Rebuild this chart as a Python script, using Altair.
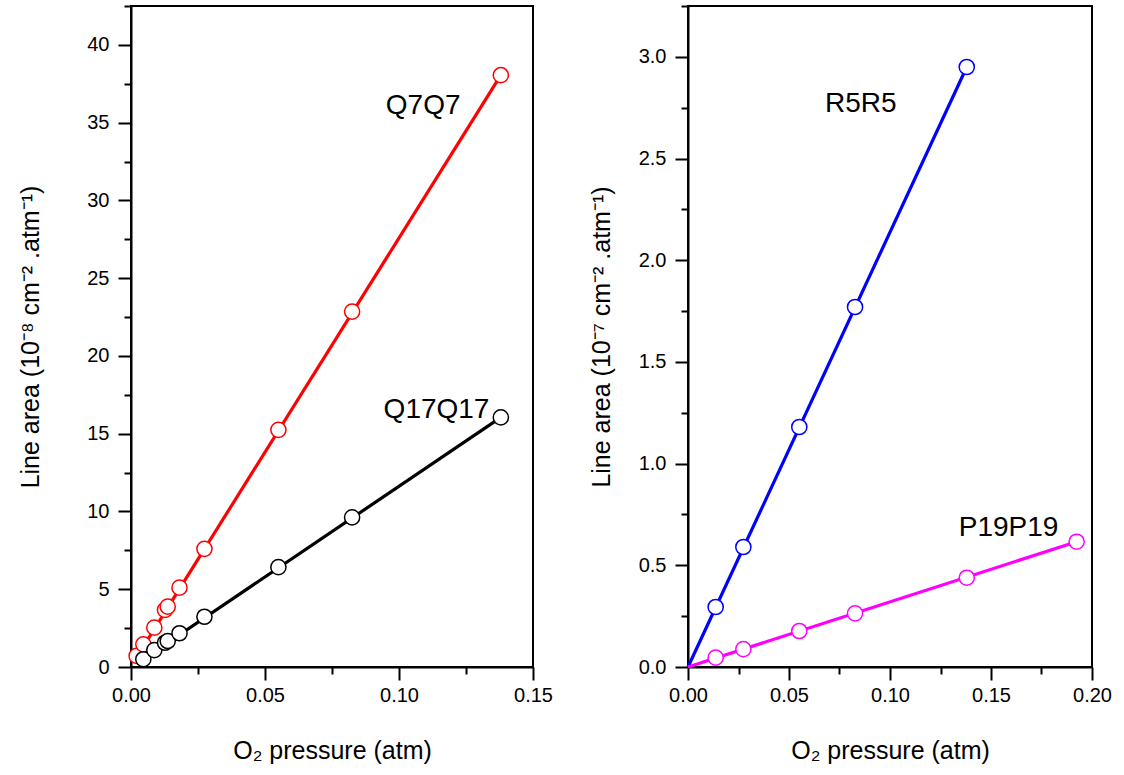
import altair as alt
import pandas as pd

# ---------------- data ----------------
# Left panel: Q7Q7 (red) and Q17Q17 (black), units 1e-8 cm^-2 atm^-1
q7_x = [0.0021, 0.0046, 0.0087, 0.0127, 0.0137, 0.0181, 0.0274, 0.0550, 0.0825, 0.1380]
q7_y = [0.71, 1.46, 2.53, 3.67, 3.88, 5.10, 7.60, 15.25, 22.85, 38.05]
q17_x = [0.0046, 0.0087, 0.0127, 0.0137, 0.0181, 0.0274, 0.0550, 0.0825, 0.1380]
q17_y = [0.50, 1.09, 1.56, 1.67, 2.17, 3.23, 6.42, 9.62, 16.05]
# fitted lines (end points)
q7_line_x = [0.0021, 0.1380]
q7_line_y = [0.62, 38.05]
q17_line_x = [0.0046, 0.1380]
q17_line_y = [0.50, 16.05]

# Right panel: R5R5 (blue) and P19P19 (magenta), units 1e-7 cm^-2 atm^-1
r5_x = [0.0137, 0.0274, 0.0551, 0.0827, 0.1380]
r5_y = [0.295, 0.590, 1.180, 1.770, 2.950]
p19_x = [0.0137, 0.0274, 0.0551, 0.0827, 0.1380, 0.1924]
p19_y = [0.046, 0.088, 0.177, 0.264, 0.439, 0.616]
r5_line_x = [0.0, 0.1380]
r5_line_y = [0.0, 2.950]
p19_line_x = [0.0, 0.1924]
p19_line_y = [0.0, 0.616]

# annotation labels
left_labels = ["Q7Q7", "Q17Q17"]
left_label_x = [0.109, 0.114]
left_label_y = [36.1, 16.5]
right_labels = ["R5R5", "P19P19"]
right_label_x = [0.0855, 0.1587]
right_label_y = [2.77, 0.684]

# axes
left_x_major = [0.0, 0.05, 0.10, 0.15]
left_x_minor = [0.025, 0.075, 0.125]
left_y_major = [0, 5, 10, 15, 20, 25, 30, 35, 40]
left_y_minor = [2.5, 7.5, 12.5, 17.5, 22.5, 27.5, 32.5, 37.5, 42.5]
right_x_major = [0.0, 0.05, 0.10, 0.15, 0.20]
right_x_minor = [0.025, 0.075, 0.125, 0.175]
right_y_major = [0.0, 0.5, 1.0, 1.5, 2.0, 2.5, 3.0]
right_y_minor = [0.25, 0.75, 1.25, 1.75, 2.25, 2.75, 3.25]

FONT = "Liberation Sans"


def long_df(pairs):
    rows = []
    for name, xs, ys in pairs:
        for x, y in zip(xs, ys):
            rows.append({"series": name, "x": x, "y": y})
    return pd.DataFrame(rows)


def panel(points, lines, labels, names, colors, xdom, ydom, xmaj, xmin, ymaj, ymin,
          xfmt, yfmt, ytitle, ytitle_pad, w, h):
    xs = alt.Scale(domain=xdom, nice=False, zero=False)
    ys = alt.Scale(domain=ydom, nice=False, zero=False)
    col = alt.Scale(domain=names, range=colors)

    ax_x = alt.Axis(values=xmaj, format=xfmt, orient="bottom", tickSize=13,
                    labelPadding=5, titlePadding=33, grid=False, labelFlush=False)
    ax_y = alt.Axis(values=ymaj, format=yfmt, orient="left", tickSize=13,
                    labelPadding=9, titlePadding=ytitle_pad, grid=False, labelFlush=False)
    ax_xm = alt.Axis(values=xmin, orient="bottom", tickSize=7, labels=False,
                     domain=False, grid=False)
    ax_ym = alt.Axis(values=ymin, orient="left", tickSize=7, labels=False,
                     domain=False, grid=False)

    line_layer = alt.Chart(lines).mark_line(strokeWidth=3.2).encode(
        x=alt.X("x:Q", scale=xs, axis=ax_x, title="O₂ pressure (atm)"),
        y=alt.Y("y:Q", scale=ys, axis=ax_y, title=ytitle),
        color=alt.Color("series:N", scale=col, legend=None),
        detail="series:N",
    )
    pt_layer = alt.Chart(points).mark_circle(
        size=230, fill="white", fillOpacity=1, strokeWidth=1.5, opacity=1
    ).encode(
        x=alt.X("x:Q", scale=xs, axis=None),
        y=alt.Y("y:Q", scale=ys, axis=None),
        stroke=alt.Stroke("series:N", scale=col, legend=None),
    )
    txt_layer = alt.Chart(labels).mark_text(
        fontSize=28, font=FONT, color="black", align="center", baseline="middle"
    ).encode(
        x=alt.X("x:Q", scale=xs, axis=None),
        y=alt.Y("y:Q", scale=ys, axis=None),
        text="label:N",
    )
    minor_layer = alt.Chart(points).mark_point(opacity=0).encode(
        x=alt.X("x:Q", scale=xs, axis=ax_xm, title=None),
        y=alt.Y("y:Q", scale=ys, axis=ax_ym, title=None),
    )
    return alt.layer(line_layer, pt_layer, txt_layer, minor_layer).resolve_axis(
        x="independent", y="independent"
    ).properties(width=w, height=h)


left_pts = long_df([("Q7Q7", q7_x, q7_y), ("Q17Q17", q17_x, q17_y)])
left_lines = long_df([("Q7Q7", q7_line_x, q7_line_y), ("Q17Q17", q17_line_x, q17_line_y)])
left_lab = pd.DataFrame({"label": left_labels, "x": left_label_x, "y": left_label_y})

right_pts = long_df([("R5R5", r5_x, r5_y), ("P19P19", p19_x, p19_y)])
right_lines = long_df([("R5R5", r5_line_x, r5_line_y), ("P19P19", p19_line_x, p19_line_y)])
right_lab = pd.DataFrame({"label": right_labels, "x": right_label_x, "y": right_label_y})

left = panel(left_pts, left_lines, left_lab, ["Q7Q7", "Q17Q17"], ["#ff0000", "#000000"],
             [0, 0.15], [0, 42.5], left_x_major, left_x_minor, left_y_major, left_y_minor,
             ".2f", "d", "Line area (10⁻⁸ cm⁻² .atm⁻¹)", 43, 402, 661)
right = panel(right_pts, right_lines, right_lab, ["R5R5", "P19P19"], ["#0000ff", "#ff00ff"],
              [0, 0.20], [0, 3.25], right_x_major, right_x_minor, right_y_major, right_y_minor,
              ".2f", ".1f", "Line area (10⁻⁷ cm⁻² .atm⁻¹)", 24, 404, 661)

chart = alt.hconcat(left, right, spacing=155, bounds="flush").resolve_scale(
    color="independent", stroke="independent"
).properties(
    padding={"left": 17, "top": 4, "right": 5, "bottom": 5}
).configure_axis(
    labelFont=FONT, titleFont=FONT, labelFontSize=20, titleFontSize=25,
    titleFontWeight="normal", labelColor="black", titleColor="black",
    domainColor="black", domainWidth=2, tickColor="black", tickWidth=2,
).configure_view(stroke="black", strokeWidth=2)

chart.save("out.html", embed_options={"renderer": "svg", "actions": False})
